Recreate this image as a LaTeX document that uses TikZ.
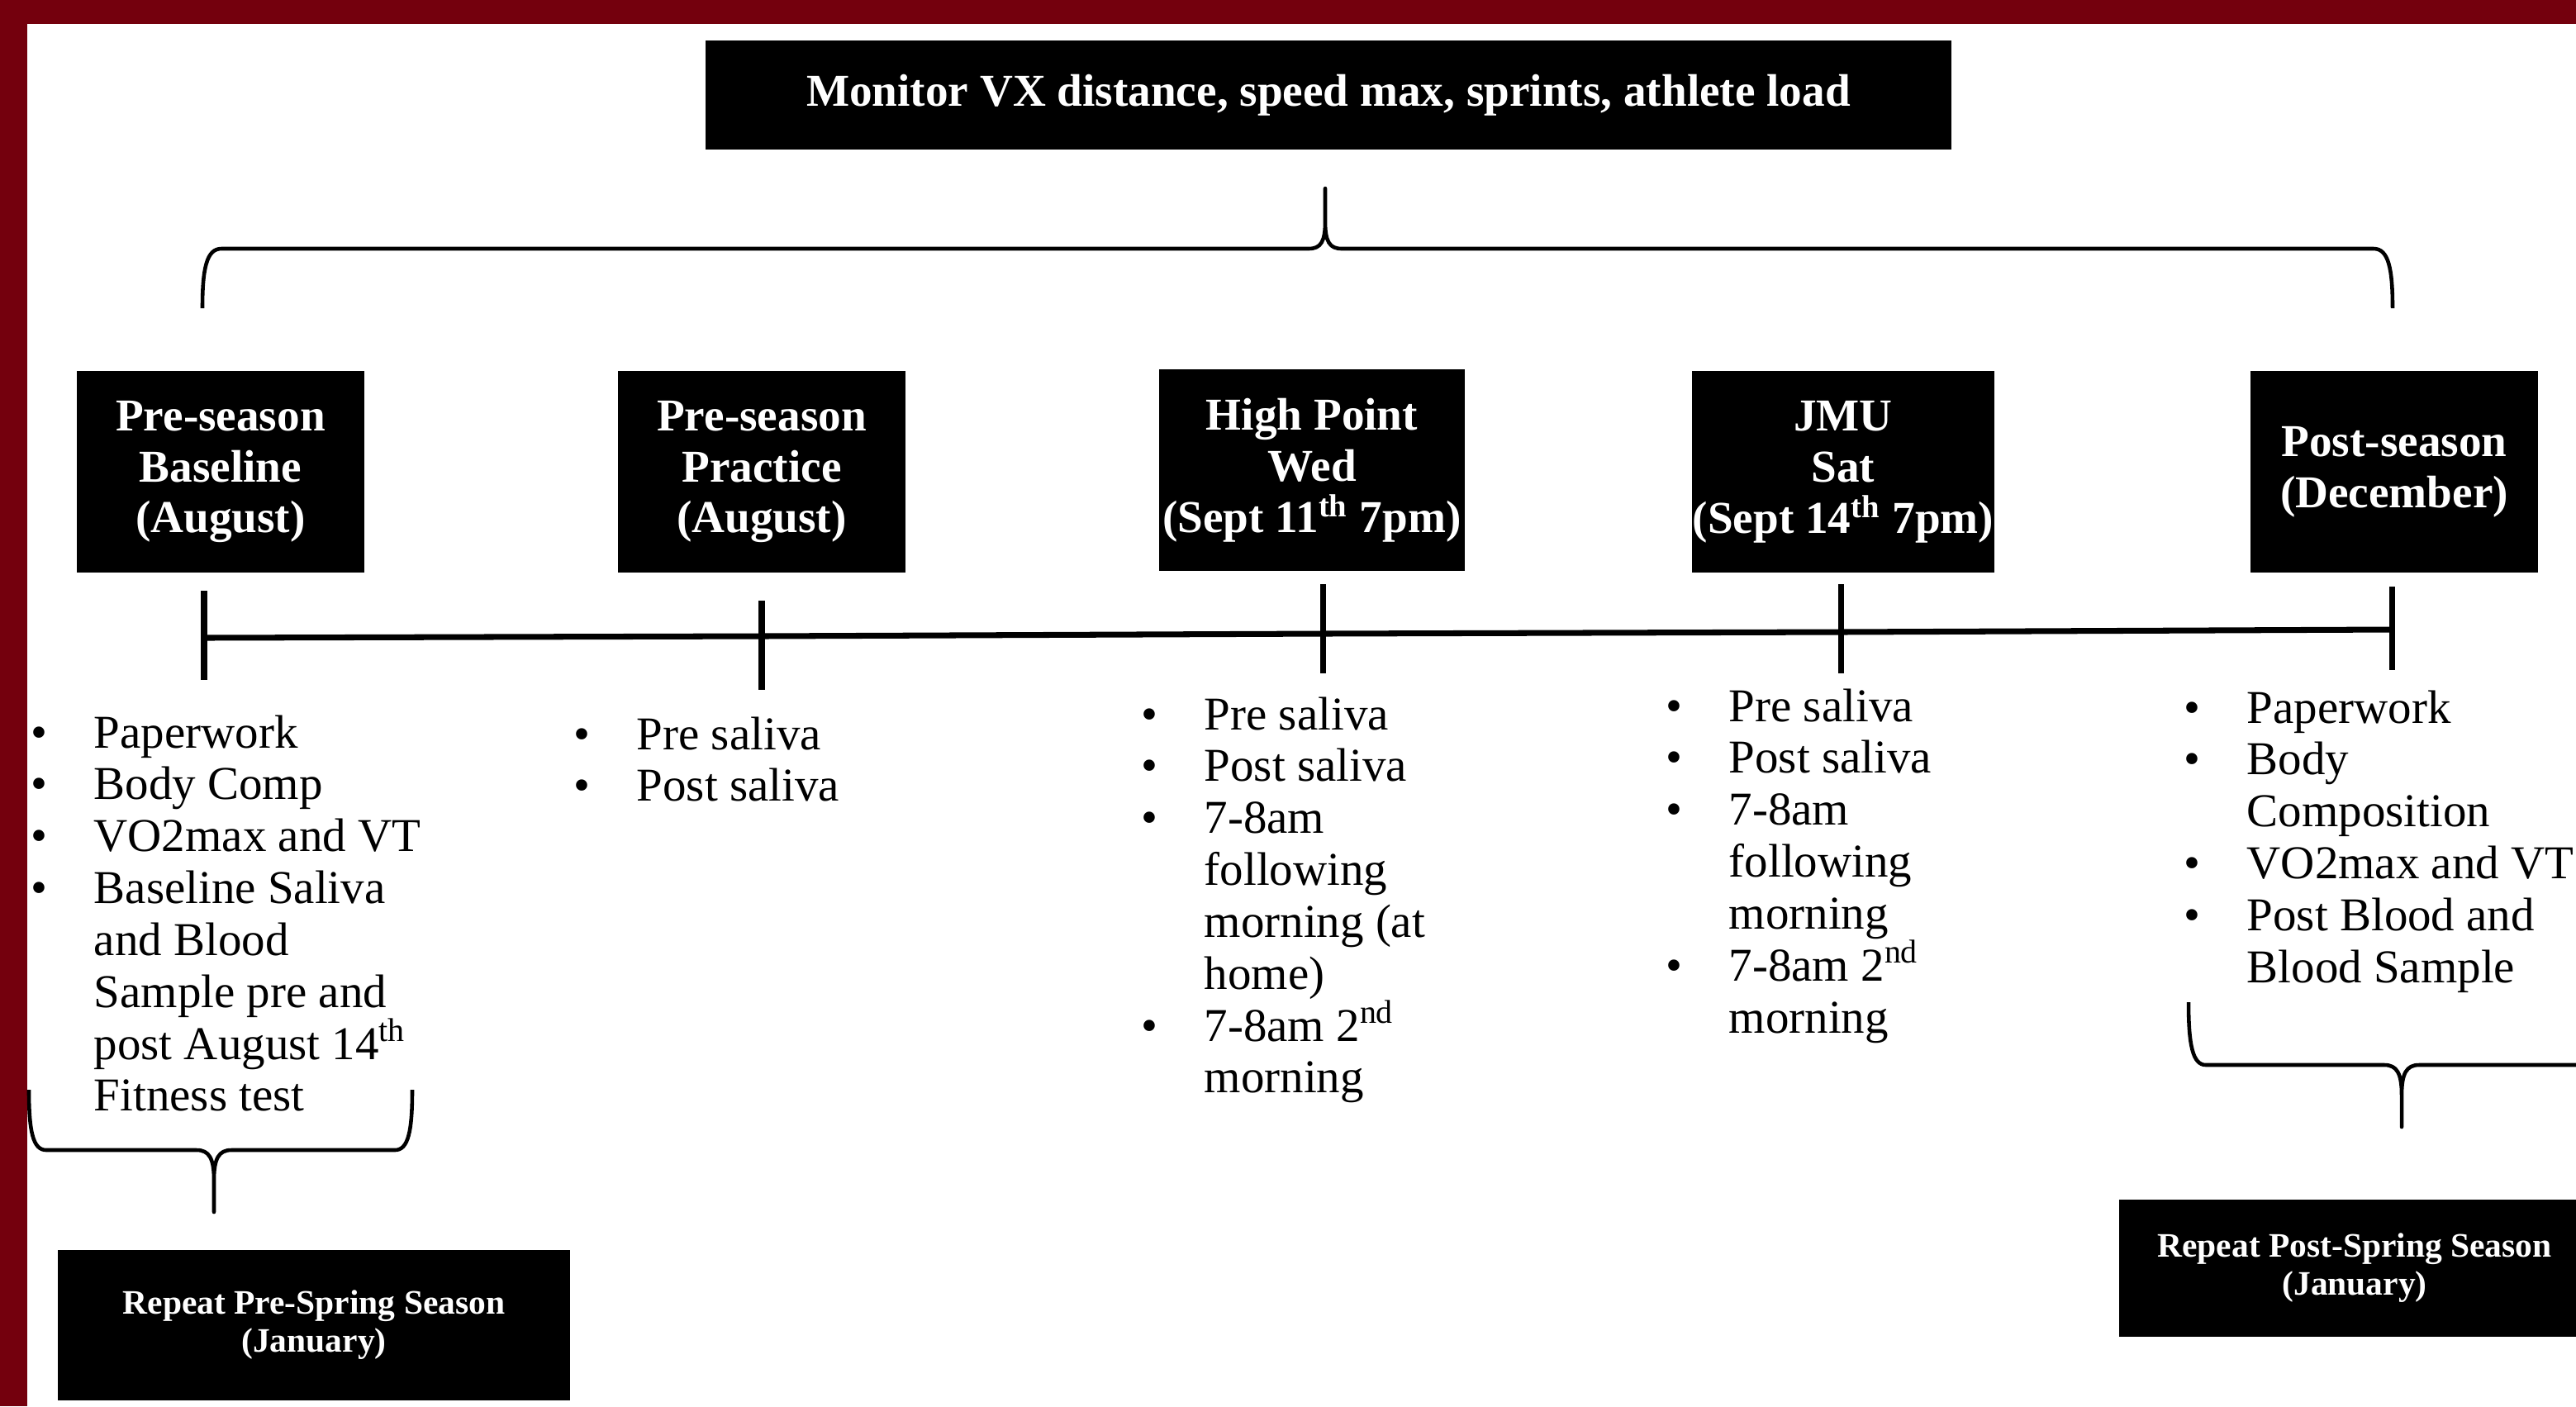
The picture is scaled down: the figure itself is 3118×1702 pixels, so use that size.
\documentclass[tikz,border=0pt]{standalone}
\usepackage{fontspec}
\setmainfont{Liberation Serif}

\definecolor{maroon}{HTML}{74000D}
\newcommand{\bul}{\makebox[0.66cm][l]{\makebox[0pt]{\textbullet}}}
\newcommand{\sups}[1]{\smash{\textsuperscript{#1}}}

\begin{document}
\begin{tikzpicture}%
    [x=0.01cm, y=-0.01cm,
    box/.style={fill=black, text=white, align=center, inner sep=0pt,
        font=\bfseries\fontsize{15.7}{17.6}\selectfont},
    phase/.style={box, minimum height=2.44cm, execute at begin node={\rule{0pt}{13.8pt}}},
    smallbox/.style={box, font=\bfseries\fontsize{11.8}{13.1}\selectfont},
    list/.style={anchor=base west, inner sep=0pt, font=\fontsize{16.2}{17.87}\selectfont},
    brace/.style={line width=1.3pt, line join=round},
    timeline/.style={line width=2pt},
    tickline/.style={line width=2pt}]

    \fill[white] (0,0) rectangle (3118,1702);
    \path[use as bounding box, clip] (0,0) rectangle (3118,1702);
    \fill[maroon] (0,0) rectangle (3118,29);
    \fill[maroon] (0,0) rectangle (33,1702);

    \node [box, minimum width=15.08cm, minimum height=1.32cm] (monitor) at (1608,115)
        {Monitor VX distance, speed max, sprints, athlete load};

    % phases
    \node [phase, minimum width=3.48cm] (baseline) at (267,571) {Pre-season\\Baseline\\(August)};
    \node [phase, minimum width=3.48cm] (practice) at (922,571) {Pre-season\\Practice\\(August)};
    \node [phase, minimum width=3.70cm] (highpoint) at (1588,569) {High Point\\Wed\\(Sept 11\sups{th} 7pm)};
    \node [phase, minimum width=3.66cm] (jmu) at (2231,571) {JMU\\Sat\\(Sept 14\sups{th} 7pm)};
    \node [box, minimum width=3.48cm, minimum height=2.44cm] (postseason) at (2898,571) {Post-season\\(December)};

    \node [smallbox, minimum width=6.20cm, minimum height=1.81cm] (prespring) at (380,1604) {Repeat Pre-Spring Season\\(January)};
    \node [smallbox, minimum width=5.70cm, minimum height=1.65cm] (postspring) at (2850,1535) {Repeat Post-Spring Season\\(January)};

    % timeline
    \coordinate (t1) at (247,772);
    \coordinate (t2) at (922,770);
    \coordinate (t3) at (1601,767);
    \coordinate (t4) at (2228,765);
    \coordinate (t5) at (2895,762);
    \draw [timeline] (t1) -- (t2) -- (t3) -- (t4) -- (t5);
    \draw [tickline] (t1) ++(0,-57) -- ++(0,108);
    \draw [tickline] (t2) ++(0,-43) -- ++(0,108);
    \draw [tickline] (t3) ++(0,-60) -- ++(0,108);
    \draw [tickline] (t4) ++(0,-58) -- ++(0,108);
    \draw [tickline] (t5) ++(0,-52) -- ++(0,101);

    % braces
    \draw [brace] (245,373) .. controls (245,325) and (250,301) .. (268,301) -- (1584,301)
        .. controls (1599,301) and (1604,292) .. (1604,268) -- (1604,228) -- (1604,268)
        .. controls (1604,292) and (1609,301) .. (1624,301) -- (2873,301)
        .. controls (2891,301) and (2896,325) .. (2896,373);
    \draw [brace] (35,1319) .. controls (35,1370) and (40,1392) .. (56,1392) -- (238,1392)
        .. controls (253,1392) and (259,1402) .. (259,1428) -- (259,1467) -- (259,1428)
        .. controls (259,1402) and (265,1392) .. (280,1392) -- (478,1392)
        .. controls (494,1392) and (499,1370) .. (499,1319);
    \draw [brace] (2649,1213) .. controls (2649,1265) and (2654,1289) .. (2670,1289) -- (2886,1289)
        .. controls (2901,1289) and (2907,1299) .. (2907,1325) -- (2907,1364) -- (2907,1325)
        .. controls (2907,1299) and (2913,1289) .. (2928,1289) -- (3144,1289)
        .. controls (3160,1289) and (3165,1265) .. (3165,1213);

    % lists
    \node [list] (baselinelist) at (47,905) {\begin{tabular}[t]{@{}l@{}l@{}}
        \bul & Paperwork\\
        \bul & Body Comp\\
        \bul & VO2max and VT\\
        \bul & Baseline Saliva\\
             & and Blood\\
             & Sample pre and\\
             & post August 14\sups{th}\\
             & Fitness test
        \end{tabular}};
    \node [list] (practicelist) at (704,907) {\begin{tabular}[t]{@{}l@{}l@{}}
        \bul & Pre saliva\\
        \bul & Post saliva
        \end{tabular}};
    \node [list] (highpointlist) at (1391,883) {\begin{tabular}[t]{@{}l@{}l@{}}
        \bul & Pre saliva\\
        \bul & Post saliva\\
        \bul & 7-8am\\
             & following\\
             & morning (at\\
             & home)\\
        \bul & 7-8am 2\sups{nd}\\
             & morning
        \end{tabular}};
    \node [list] (jmulist) at (2026,873) {\begin{tabular}[t]{@{}l@{}l@{}}
        \bul & Pre saliva\\
        \bul & Post saliva\\
        \bul & 7-8am\\
             & following\\
             & morning\\
        \bul & 7-8am 2\sups{nd}\\
             & morning
        \end{tabular}};
    \node [list] (postseasonlist) at (2653,875) {\begin{tabular}[t]{@{}l@{}l@{}}
        \bul & Paperwork\\
        \bul & Body\\
             & Composition\\
        \bul & VO2max and VT\\
        \bul & Post Blood and\\
             & Blood Sample
        \end{tabular}};
\end{tikzpicture}
\end{document}
